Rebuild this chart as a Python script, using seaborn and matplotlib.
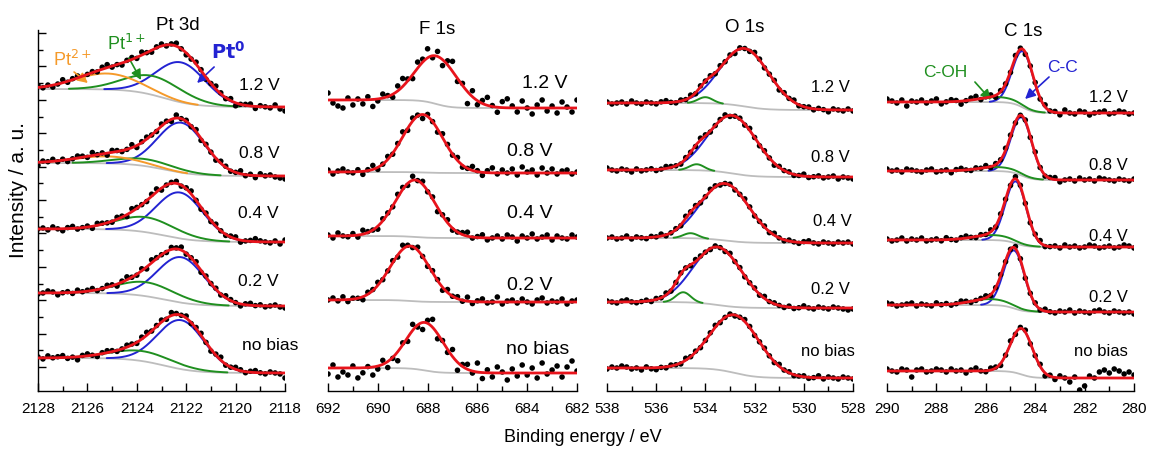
import numpy as np
import pandas as pd
import matplotlib
matplotlib.use("Agg")
import matplotlib.pyplot as plt
from matplotlib.ticker import MultipleLocator, FixedLocator
from matplotlib import font_manager
import seaborn as sns

# ------------------------------------------------------------------ data
spectrum_labels = ["1.2 V", "0.8 V", "0.4 V", "0.2 V", "no bias"]

# Pt 3d (intensity in arbitrary units)
pt_range = (2128, 2118)
pt_bg_left = [302, 228, 162, 98, 33]
pt_bg_right = [284, 215, 149, 85, 18]
pt_bg_center = [2122.9, 2122.9, 2122.9, 2122.9, 2122.9]
pt_bg_width = [1.3, 1.3, 1.3, 1.3, 1.3]
pt0_center = [2122.2, 2122.2, 2122.25, 2122.2, 2122.2]
pt0_height = [40, 50, 46, 45.5, 49]
pt0_sigma = [1.0, 0.95, 0.95, 0.95, 0.95]
pt1_center = [2123.3, 2123.6, 2123.6, 2123.6, 2123.75]
pt1_height = [19, 7, 15, 14, 10]
pt1_sigma = [1.2, 1.2, 1.2, 1.2, 1.3]
pt2_center = [2125.2, 2125.2, 2125.2, 2125.2, 2125.2]
pt2_height = [16, 7, 0, 0, 0]
pt2_sigma = [1.3, 1.3, 1.3, 1.3, 1.3]
pt_residuals = [
    [2,-1,1,-2,0,3,-1,1,2,-2,0,1,-1,2,3,-1,0,-2,1,2,-1,3,0,-2,1,2,-1,1,3,0,-2,-1,2,1,-2,0,3,1,-1,2,-3,0,1,2,-2,1,0,-1,2,-2,-4],
    [-3,1,0,2,-1,1,-2,0,2,1,-1,3,0,1,-2,2,1,-1,0,3,-2,1,2,0,-1,2,1,-2,3,0,1,-1,2,-2,1,0,-2,2,1,-1,0,3,-1,1,-2,2,0,1,-1,-2,-3],
    [0,1,-1,2,0,-2,1,2,-1,0,1,-2,2,1,0,-1,2,1,-2,3,1,0,-1,2,3,-2,0,1,2,-1,1,3,0,-2,1,-1,2,0,-1,1,2,-2,0,1,3,1,0,-1,1,-2,2],
    [-1,0,2,1,-2,0,1,-1,2,0,1,2,-1,0,2,1,-2,1,3,0,-1,2,-2,3,1,0,-1,2,1,3,-1,0,2,-2,1,0,1,-1,2,1,0,-2,1,2,0,1,-1,0,1,-1,-2],
    [1,-1,2,0,1,2,-1,0,-3,1,2,0,-2,1,2,1,-1,0,2,1,-1,2,3,0,1,2,-1,3,1,0,2,-1,1,2,0,-2,1,3,-1,0,2,1,-1,1,2,0,-1,1,0,-1,-5],
]

# F 1s
f_range = (692, 682)
f_bg_left = [291, 219, 155, 91, 23]
f_bg_right = [283, 218, 153, 89, 18]
f_center = [687.65, 688.2, 688.5, 688.7, 688.1]
f_height = [48, 58, 57, 55, 48]
f_sigma = [0.85, 0.8, 0.8, 0.8, 0.75]
f_residuals = [
    [7,-3,-6,-8,2,-5,1,-4,3,-7,-2,4,1,-3,5,8,2,-4,6,3,9,-2,5,-6,4,10,-3,2,-12,6,-4,3,8,1,-5,6,9,2,-4,7,0,-6,3,8,-3,2,-5,6,1,-4,8],
    [2,-2,1,3,0,-1,2,-3,1,4,-2,0,3,-1,2,5,-2,3,1,-4,2,0,-3,4,2,-1,3,-2,0,4,1,-3,2,5,-1,3,0,4,-2,6,1,3,-2,5,0,4,-1,2,3,-1,1],
    [1,-2,3,0,-1,2,-2,4,1,0,-3,2,1,-1,3,2,-2,4,0,3,-1,2,-4,1,3,-2,0,2,4,-1,1,3,-2,0,2,-1,3,1,-3,2,0,4,-1,1,3,-2,2,0,-1,3,1],
    [0,2,-1,3,-2,1,0,-3,2,1,3,-1,0,2,-2,4,1,-1,3,0,-2,2,1,-3,3,0,2,-1,4,-2,1,3,-1,0,5,-2,1,2,-1,3,0,-2,2,4,-1,1,0,3,-2,1,2],
    [-6,3,-9,-4,-7,2,-10,-5,1,-8,-3,4,-6,-1,-9,2,-4,6,-2,-7,3,8,-5,1,-3,7,-8,2,5,-2,9,-6,3,-4,6,1,-7,4,-3,8,-2,5,-5,10,-1,3,7,-4,6,12,2],
]

# O 1s
o_range = (538, 528)
o_bg_left = [288, 221, 153, 89, 23]
o_bg_right = [281, 214, 148, 83, 13]
o_main_center = [532.4, 532.9, 533.2, 533.5, 532.8]
o_main_height = [58, 58, 57, 58, 58]
o_main_sigma = [1.0, 1.0, 1.0, 1.0, 1.0]
o_minor_center = [534.0, 534.35, 534.6, 534.9, 534.9]
o_minor_height = [6, 6, 5, 10, 0]
o_minor_sigma = [0.3, 0.3, 0.3, 0.3, 0.3]
o_residuals = [
    [1,-1,0,1,-1,2,0,-1,1,0,-1,1,2,0,-1,1,0,2,-1,1,0,1,-1,2,0,1,-2,1,0,-1,2,1,-1,0,1,-2,1,0,2,-1,0,1,-1,1,0,-2,1,0,-1,1,-1],
    [2,0,-1,1,0,-2,1,-1,0,1,-1,0,2,1,0,-1,1,0,-1,2,1,-1,0,1,2,-1,0,1,-1,2,0,-1,1,0,-2,1,0,1,-1,0,2,-1,0,1,-1,0,1,-2,0,-1,-2],
    [0,1,-1,0,2,-1,1,0,-1,1,0,2,-1,0,1,-1,2,0,1,-1,0,2,1,-1,0,1,-1,0,2,1,-1,0,1,-1,2,0,-1,1,0,-1,1,2,0,-1,1,0,-1,1,0,1,-1],
    [1,0,-1,1,2,0,-1,0,1,-1,1,0,2,-1,0,1,0,-1,2,1,0,-1,1,0,-1,2,0,1,-1,0,1,-1,2,0,1,0,-1,1,-1,0,2,0,-1,1,0,-1,1,0,-1,-2,-1],
    [-1,1,0,2,1,-1,0,-2,1,-1,-2,0,-1,1,0,-1,2,0,1,-1,0,1,2,-1,0,1,-1,0,2,1,-1,0,1,0,-1,2,0,1,-1,0,1,-1,0,2,-1,1,0,-1,1,0,-1],
]

# C 1s
c_range = (290, 280)
c_bg_left = [289, 220, 151, 86, 20]
c_bg_right = [278, 211, 144, 79, 13]
cc_center = [284.5, 284.55, 284.78, 284.85, 284.55]
cc_height = [56, 58, 62, 58, 46]
cc_sigma = [0.42, 0.42, 0.42, 0.42, 0.45]
coh_center = [285.5, 285.5, 285.7, 285.8, 285.8]
coh_height = [5, 4, 5, 6, 0]
coh_sigma = [0.8, 0.8, 0.8, 0.8, 0.8]
c_residuals = [
    [3,1,-1,2,-4,1,0,2,-1,1,3,-2,0,2,1,-3,0,2,3,-1,1,2,-2,1,0,-1,2,1,-2,0,1,-1,2,0,1,-2,3,0,-1,2,1,-2,0,1,2,-1,0,2,1,-1,0],
    [2,0,1,-1,2,1,0,-1,1,2,-1,0,1,-2,1,2,0,-1,1,0,2,-1,1,0,2,1,-1,0,1,-1,2,0,-1,1,2,-2,0,1,-1,2,0,1,-1,2,1,0,-1,1,0,-1,1],
    [1,-1,0,2,-1,1,0,2,-1,0,1,-1,2,0,-1,1,2,0,-1,1,0,2,-1,1,0,-1,2,1,0,-1,1,2,-1,0,1,-1,2,0,1,-1,0,2,1,-1,0,1,-1,0,2,1,-1],
    [2,1,-1,0,1,2,-1,1,0,-1,2,0,1,-1,0,2,1,-1,0,1,2,-1,0,1,-1,0,2,1,-1,0,1,-1,2,0,-1,1,0,2,-1,1,0,-1,1,2,0,-1,1,0,-1,0,-2],
    [2,0,-1,2,1,-6,1,2,-1,0,2,1,-1,2,0,1,-2,1,3,0,-1,2,1,-2,0,3,-1,1,2,-1,0,2,-3,1,-2,2,0,-4,1,-12,-8,2,0,6,8,5,9,7,4,6,3],
]

titles = ["Pt 3d", "F 1s", "O 1s", "C 1s"]

# ------------------------------------------------------------------ style
sns.set_theme(style="white")
plt.rcParams["font.family"] = ["Liberation Sans", "DejaVu Sans"]
names = {f.name for f in font_manager.fontManager.ttflist}
if "Liberation Sans Narrow" in names:
    tick_family, tick_size = ["Liberation Sans Narrow", "DejaVu Sans"], 12.5
else:
    tick_family, tick_size = ["Liberation Sans", "DejaVu Sans"], 11

RED = "#e8141c"
BLUE = "#2323d2"
GREEN = "#1f8f1f"
ORANGE = "#f59a2a"
GRAY = "#bdbdbd"

W, H = 1150, 454
fig = plt.figure(figsize=(W / 100, H / 100), dpi=100)
fig.patch.set_facecolor("white")

AX_BOTTOM = 391
AX_TOP = 30
panel_px = [(38, 285), (328, 577), (607, 853), (887, 1134)]


def make_ax(i, erange):
    x0, x1 = panel_px[i]
    ax = fig.add_axes([x0 / W, (H - AX_BOTTOM) / H, (x1 - x0) / W, (AX_BOTTOM - AX_TOP) / H])
    ax.set_xlim(erange[0], erange[1])
    ax.set_ylim(0, AX_BOTTOM - AX_TOP)
    ax.set_facecolor("none")
    for s in ["top", "right"]:
        ax.spines[s].set_visible(False)
    ax.spines["bottom"].set_color("black")
    ax.spines["bottom"].set_linewidth(1.0)
    if i == 0:
        ax.spines["left"].set_color("black")
        ax.spines["left"].set_linewidth(1.0)
        ticks = [24 + 16.7 * k for k in range(21)]
        ax.yaxis.set_major_locator(FixedLocator(ticks[::2]))
        ax.yaxis.set_minor_locator(FixedLocator(ticks[1::2]))
        ax.tick_params(axis="y", which="major", direction="in", length=6, width=1, color="black", labelleft=False, left=True)
        ax.tick_params(axis="y", which="minor", direction="in", length=3.5, width=1, color="black", left=True)
    else:
        ax.spines["left"].set_visible(False)
        ax.set_yticks([])
    ax.xaxis.set_major_locator(MultipleLocator(2))
    ax.xaxis.set_minor_locator(MultipleLocator(1))
    ax.tick_params(axis="x", which="major", direction="in", length=6, width=1, color="black",
                   bottom=True, pad=8, labelsize=tick_size, labelcolor="black")
    ax.tick_params(axis="x", which="minor", direction="in", length=3.5, width=1, color="black", bottom=True)
    ax.set_xticks([erange[0] - 2 * k for k in range(6)])
    ax.set_xticklabels([str(erange[0] - 2 * k) for k in range(6)], fontfamily=tick_family, fontsize=tick_size)
    ax.grid(False)
    return ax


def background(E, L, R, c, w):
    return R + (L - R) * 0.5 * (1 + np.tanh((E - c) / w))


def peak(E, c, h, s):
    return h * np.exp(-0.5 * ((E - c) / s) ** 2)


def line(ax, x, y, color, lw, z):
    sns.lineplot(x=x, y=y, ax=ax, color=color, lw=lw, sort=False, estimator=None, zorder=z)


def dots(ax, x, y):
    sns.scatterplot(x=x, y=y, ax=ax, color="black", s=16, edgecolor="none", linewidth=0, zorder=3)


def draw_panel(ax, erange, bgL, bgR, bgc, bgw, comps, comp_colors, residuals):
    Ef = np.linspace(erange[0], erange[1], 400)
    for k in range(5):
        bg_f = background(Ef, bgL[k], bgR[k], bgc[k], bgw[k])
        total = bg_f.copy()
        for (cen, hei, sig), col in zip(comps, comp_colors):
            if hei[k] > 0:
                comp = peak(Ef, cen[k], hei[k], sig[k])
                total += comp
                if col is not None:
                    keep = comp > 0.3
                    line(ax, Ef[keep], (bg_f + comp)[keep], col, 1.4, 2)
        line(ax, Ef, bg_f, GRAY, 1.3, 1)
        res = np.array(residuals[k], dtype=float)
        Ed = np.linspace(erange[0], erange[1], len(res))
        model = background(Ed, bgL[k], bgR[k], bgc[k], bgw[k])
        for (cen, hei, sig), col in zip(comps, comp_colors):
            if hei[k] > 0:
                model += peak(Ed, cen[k], hei[k], sig[k])
        dots(ax, Ed, model + res)
        line(ax, Ef, total, RED, 2.0, 4)


# Pt 3d
ax_pt = make_ax(0, pt_range)
draw_panel(ax_pt, pt_range, pt_bg_left, pt_bg_right, pt_bg_center, pt_bg_width,
           [(pt0_center, pt0_height, pt0_sigma), (pt1_center, pt1_height, pt1_sigma),
            (pt2_center, pt2_height, pt2_sigma)],
           [BLUE, GREEN, ORANGE], pt_residuals)

# F 1s
ax_f = make_ax(1, f_range)
draw_panel(ax_f, f_range, f_bg_left, f_bg_right, f_center, [0.6] * 5,
           [(f_center, f_height, f_sigma)], [None], f_residuals)

# O 1s
ax_o = make_ax(2, o_range)
draw_panel(ax_o, o_range, o_bg_left, o_bg_right, o_main_center, [0.9] * 5,
           [(o_main_center, o_main_height, o_main_sigma), (o_minor_center, o_minor_height, o_minor_sigma)],
           [BLUE, GREEN], o_residuals)

# C 1s
ax_c = make_ax(3, c_range)
draw_panel(ax_c, c_range, c_bg_left, c_bg_right, cc_center, [0.45] * 5,
           [(cc_center, cc_height, cc_sigma), (coh_center, coh_height, coh_sigma)],
           [BLUE, GREEN], c_residuals)

for ax in [ax_pt, ax_f, ax_o, ax_c]:
    ax.set_xlabel("")
    ax.set_ylabel("")
    ax.set_ylim(0, AX_BOTTOM - AX_TOP)


def ftext(x, y, s, **kw):
    fig.text(x / W, 1 - y / H, s, ha="center", va="center", **kw)


# titles
for (x, y), t in zip([(178, 25), (437, 29), (745, 28), (1023, 31)], titles):
    ftext(x, y, t, fontsize=13.5, color="black")

# spectrum labels
label_pos = [
    [(259, 86), (259, 153), (258, 214), (258, 281), (270, 345)],
    [(545, 84), (530, 152), (530, 214), (530, 285), (538, 349)],
    [(830, 88), (830, 157), (832, 222), (830, 290), (828, 351)],
    [(1108, 97), (1108, 165), (1108, 236), (1108, 297), (1101, 352)],
]
label_sizes = [12.5, 14, 12, 12]
for p, positions in enumerate(label_pos):
    for (x, y), t in zip(positions, spectrum_labels):
        ftext(x, y, t, fontsize=label_sizes[p], color="black")

ftext(19, 190, "Intensity / a. u.", rotation=90, fontsize=15, color="black")
ftext(583, 437, "Binding energy / eV", fontsize=13, color="black")

# annotations Pt 3d
arrow = dict(arrowstyle="-|>,head_length=0.5,head_width=0.25", lw=1.2, shrinkA=0, shrinkB=0)
ax_pt.annotate("", xy=(2125.98, 308), xytext=(2126.54, 319), arrowprops=dict(arrow, color=ORANGE))
ax_pt.text(2126.62, 331, "Pt$^{2+}$", color=ORANGE, fontsize=13, ha="center", va="center")
ax_pt.annotate("", xy=(2123.83, 311), xytext=(2124.32, 333), arrowprops=dict(arrow, color=GREEN))
ax_pt.text(2124.4, 347, "Pt$^{1+}$", color=GREEN, fontsize=13, ha="center", va="center")
ax_pt.annotate("", xy=(2121.56, 308), xytext=(2120.87, 324), arrowprops=dict(arrow, color=BLUE))
ax_pt.text(2120.3, 339, r"$\mathbf{Pt^{0}}$", color=BLUE, fontsize=14, ha="center", va="center")

# annotations C 1s
ax_c.annotate("", xy=(285.79, 291), xytext=(286.44, 309), arrowprops=dict(arrow, color=GREEN))
ax_c.text(287.65, 319, "C-OH", color=GREEN, fontsize=12.5, ha="center", va="center")
ax_c.annotate("", xy=(284.41, 292), xytext=(283.44, 314), arrowprops=dict(arrow, color=BLUE))
ax_c.text(282.91, 324, "C-C", color=BLUE, fontsize=12.5, ha="center", va="center")

fig.savefig("out.png", dpi=100, facecolor="white")
